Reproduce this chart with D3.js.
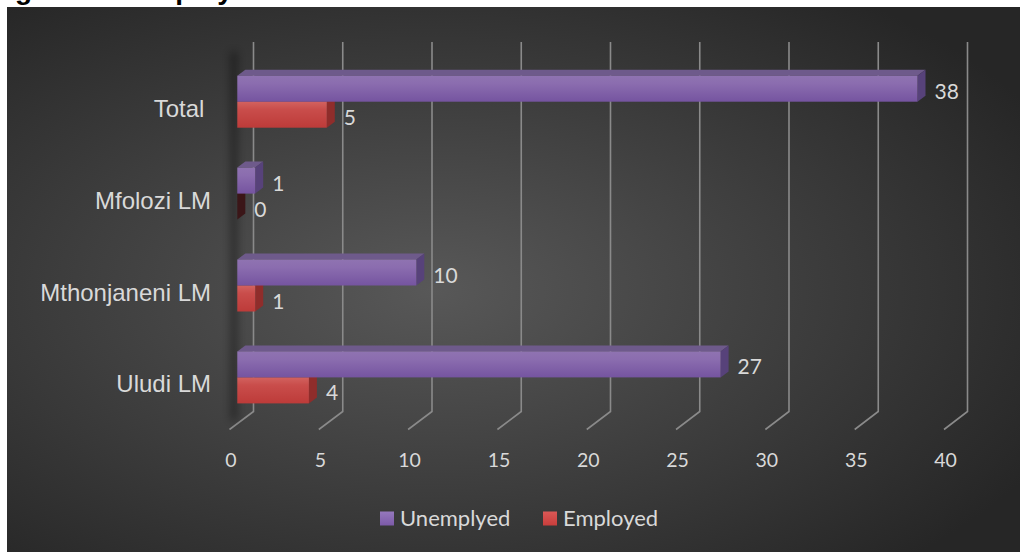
<!DOCTYPE html>
<html><head><meta charset="utf-8">
<script src="https://cdn.jsdelivr.net/npm/d3@7"></script>
<style>html,body{margin:0;padding:0;background:#fff;overflow:hidden}svg{display:block}</style>
</head><body>
<svg id="chart" width="1020" height="552"></svg>
<script>
// Employment status by local municipality
const categories = ["Total", "Mfolozi LM", "Mthonjaneni LM", "Uludi LM"];
const unemployed = [38, 1, 10, 27];
const employed = [5, 0, 1, 4];
const seriesNames = ["Unemplyed", "Employed"];
const tickValues = [0, 5, 10, 15, 20, 25, 30, 35, 40];
const titleText = "Figure 10: Employment status";

const svg = d3.select("#chart");
const defs = svg.append("defs");

// panel background
const bg = defs.append("radialGradient").attr("id", "bg")
  .attr("cx", "42%").attr("cy", "52%").attr("r", "68%");
bg.append("stop").attr("offset", "0%").attr("stop-color", "#585858");
bg.append("stop").attr("offset", "100%").attr("stop-color", "#262626");

function vGrad(id, stops) {
  const g = defs.append("linearGradient").attr("id", id)
    .attr("x1", 0).attr("y1", 0).attr("x2", 0).attr("y2", 1);
  stops.forEach(([o, c]) => g.append("stop").attr("offset", o).attr("stop-color", c));
}
vGrad("purpleFront", [["0%", "#8f73b1"], ["30%", "#8b6daf"], ["100%", "#7554a0"]]);
vGrad("redFront", [["0%", "#d2625f"], ["30%", "#c94d4b"], ["100%", "#bd3b39"]]);
vGrad("purpleKey", [["0%", "#9578bd"], ["100%", "#7c5aa8"]]);
vGrad("redKey", [["0%", "#dc5856"], ["100%", "#c83e3c"]]);

const blur = defs.append("filter").attr("id", "blur")
  .attr("x", "-200%").attr("y", "-10%").attr("width", "500%").attr("height", "120%");
blur.append("feGaussianBlur").attr("stdDeviation", 4);

const palette = {
  Unemplyed: { front: "url(#purpleFront)", top: "#6e5a8b", side: "#57427a", key: "url(#purpleKey)" },
  Employed:  { front: "url(#redFront)",    top: "#a24240", side: "#8f2d2b", key: "url(#redKey)" }
};

// title line above the panel
svg.append("text").attr("x", -10).attr("y", -1)
  .attr("font-family", "Liberation Sans, Arial, sans-serif")
  .attr("font-weight", "bold").attr("font-size", 28).attr("fill", "#000")
  .text(titleText);

svg.append("rect").attr("x", 7).attr("y", 7).attr("width", 1013).attr("height", 545)
  .attr("fill", "url(#bg)");

// scales: back wall, floor front edge, bar front plane
const xBack = d3.scaleLinear().domain([0, 40]).range([253.5, 967.5]);
const xFloor = d3.scaleLinear().domain([0, 40]).range([229.5, 944]);
const xBar = d3.scaleLinear().domain([0, 40]).range([237.3, 953.3]);
const y = d3.scaleBand().domain(categories).range([55.75, 423.35]);

const wallTop = 42, wallBottom = 411.5, floorFront = 429.5;
const depthX = 8, depthY = -6, barH = 26;

// gridlines: vertical on back wall, slanting across floor
svg.append("g").selectAll("path").data(tickValues).join("path")
  .attr("d", v => `M${xBack(v)},${wallTop}L${xBack(v)},${wallBottom}L${xFloor(v)},${floorFront}`)
  .attr("fill", "none").attr("stroke", "#8a8a8a").attr("stroke-width", 1.6);

// tick labels
svg.append("g").selectAll("text").data(tickValues).join("text")
  .attr("x", v => xFloor(v) + 1.5).attr("y", 467)
  .attr("text-anchor", "middle")
  .attr("font-family", "Lato, sans-serif").attr("font-size", 19.5)
  .attr("fill", "#d9d9d9").text(d => d);

// soft shadow along the bar base
svg.append("rect").attr("x", 231).attr("y", 52).attr("width", 6).attr("height", 368)
  .attr("fill", "#000").attr("opacity", 0.45).attr("filter", "url(#blur)");

// category labels
svg.append("g").selectAll("text").data(categories).join("text")
  .attr("x", 211).attr("y", c => y(c) + y.bandwidth() / 2 + 15)
  .attr("text-anchor", "end").style("white-space", "pre")
  .attr("font-family", "Liberation Sans, Arial, sans-serif").attr("font-size", 24)
  .attr("fill", "#d9d9d9").text(c => c === "Total" ? c + " " : c);

// bars: Employed (lower) drawn first, Unemplyed (upper) on top
const barRows = [];
categories.forEach((c, i) => {
  const mid = y(c) + y.bandwidth() / 2;
  barRows.push({ cat: c, series: "Employed", value: employed[i], y0: mid });
  barRows.push({ cat: c, series: "Unemplyed", value: unemployed[i], y0: mid - barH });
});

const bars = svg.append("g").selectAll("g").data(barRows).join("g");
bars.append("path")
  .attr("d", d => {
    const x0 = xBar(0), x1 = xBar(d.value);
    return `M${x0},${d.y0}L${x0 + depthX},${d.y0 + depthY}L${x1 + depthX},${d.y0 + depthY}L${x1},${d.y0}Z`;
  })
  .attr("fill", d => palette[d.series].top);
bars.append("path")
  .attr("d", d => {
    const x1 = xBar(d.value);
    return `M${x1},${d.y0}L${x1 + depthX},${d.y0 + depthY}L${x1 + depthX},${d.y0 + barH + depthY}L${x1},${d.y0 + barH}Z`;
  })
  .attr("fill", d => d.value === 0 ? "#3b1618" : palette[d.series].side);
bars.append("rect")
  .attr("x", xBar(0)).attr("y", d => d.y0)
  .attr("width", d => xBar(d.value) - xBar(0)).attr("height", barH)
  .attr("fill", d => palette[d.series].front);

// value labels
svg.append("g").selectAll("text").data(barRows).join("text")
  .attr("x", d => xBar(d.value) + 17).attr("y", d => d.y0 + barH / 2 + 10)
  .attr("font-family", "Lato, sans-serif").attr("font-size", 21)
  .attr("fill", "#d9d9d9").text(d => d.value);

// legend
const legendX = [380, 543];
const legend = svg.append("g").selectAll("g").data(seriesNames).join("g")
  .attr("transform", (d, i) => `translate(${legendX[i]},511.5)`);
legend.append("rect").attr("width", 14).attr("height", 14)
  .attr("fill", d => palette[d].key);
legend.append("text").attr("x", 20).attr("y", 14.5)
  .attr("font-family", "Lato, sans-serif").attr("font-size", 22)
  .attr("fill", "#d9d9d9").text(d => d);
</script>
</body></html>
